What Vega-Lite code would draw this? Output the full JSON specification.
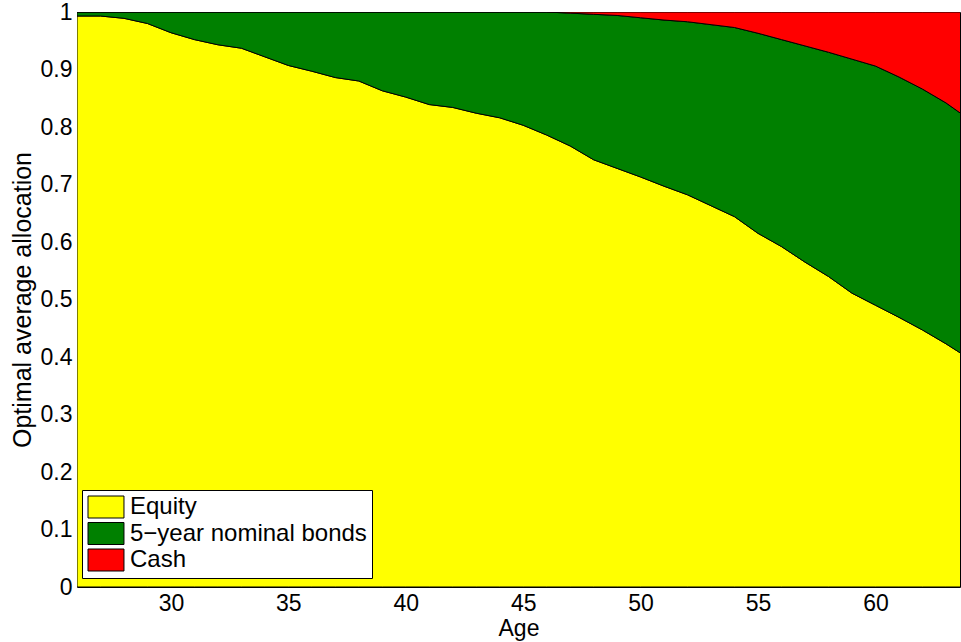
{
  "$schema": "https://vega.github.io/schema/vega-lite/v6.json",
  "width": 883,
  "height": 575,
  "autosize": {"type": "none"},
  "padding": {"left": 77, "top": 12, "right": 1, "bottom": 55},
  "background": "white",
  "config": {
    "font": "Liberation Sans",
    "view": {"stroke": "black", "strokeWidth": 1},
    "axis": {"domain": false, "ticks": false, "grid": false, "labelColor": "black", "titleColor": "black", "labelFont": "Liberation Sans", "titleFont": "Liberation Sans", "titleFontWeight": "normal"}
  },
  "data": {"values": [
    {"age": 26, "asset": "Equity", "share": 0.993}, {"age": 26, "asset": "5−year nominal bonds", "share": 0.007}, {"age": 26, "asset": "Cash", "share": 0.0},
    {"age": 27, "asset": "Equity", "share": 0.993}, {"age": 27, "asset": "5−year nominal bonds", "share": 0.007}, {"age": 27, "asset": "Cash", "share": 0.0},
    {"age": 28, "asset": "Equity", "share": 0.989}, {"age": 28, "asset": "5−year nominal bonds", "share": 0.011}, {"age": 28, "asset": "Cash", "share": 0.0},
    {"age": 29, "asset": "Equity", "share": 0.980}, {"age": 29, "asset": "5−year nominal bonds", "share": 0.020}, {"age": 29, "asset": "Cash", "share": 0.0},
    {"age": 30, "asset": "Equity", "share": 0.964}, {"age": 30, "asset": "5−year nominal bonds", "share": 0.036}, {"age": 30, "asset": "Cash", "share": 0.0},
    {"age": 31, "asset": "Equity", "share": 0.952}, {"age": 31, "asset": "5−year nominal bonds", "share": 0.048}, {"age": 31, "asset": "Cash", "share": 0.0},
    {"age": 32, "asset": "Equity", "share": 0.943}, {"age": 32, "asset": "5−year nominal bonds", "share": 0.057}, {"age": 32, "asset": "Cash", "share": 0.0},
    {"age": 33, "asset": "Equity", "share": 0.937}, {"age": 33, "asset": "5−year nominal bonds", "share": 0.063}, {"age": 33, "asset": "Cash", "share": 0.0},
    {"age": 34, "asset": "Equity", "share": 0.922}, {"age": 34, "asset": "5−year nominal bonds", "share": 0.078}, {"age": 34, "asset": "Cash", "share": 0.0},
    {"age": 35, "asset": "Equity", "share": 0.907}, {"age": 35, "asset": "5−year nominal bonds", "share": 0.093}, {"age": 35, "asset": "Cash", "share": 0.0},
    {"age": 36, "asset": "Equity", "share": 0.897}, {"age": 36, "asset": "5−year nominal bonds", "share": 0.103}, {"age": 36, "asset": "Cash", "share": 0.0},
    {"age": 37, "asset": "Equity", "share": 0.886}, {"age": 37, "asset": "5−year nominal bonds", "share": 0.114}, {"age": 37, "asset": "Cash", "share": 0.0},
    {"age": 38, "asset": "Equity", "share": 0.880}, {"age": 38, "asset": "5−year nominal bonds", "share": 0.120}, {"age": 38, "asset": "Cash", "share": 0.0},
    {"age": 39, "asset": "Equity", "share": 0.863}, {"age": 39, "asset": "5−year nominal bonds", "share": 0.137}, {"age": 39, "asset": "Cash", "share": 0.0},
    {"age": 40, "asset": "Equity", "share": 0.852}, {"age": 40, "asset": "5−year nominal bonds", "share": 0.148}, {"age": 40, "asset": "Cash", "share": 0.0},
    {"age": 41, "asset": "Equity", "share": 0.839}, {"age": 41, "asset": "5−year nominal bonds", "share": 0.161}, {"age": 41, "asset": "Cash", "share": 0.0},
    {"age": 42, "asset": "Equity", "share": 0.834}, {"age": 42, "asset": "5−year nominal bonds", "share": 0.166}, {"age": 42, "asset": "Cash", "share": 0.0},
    {"age": 43, "asset": "Equity", "share": 0.824}, {"age": 43, "asset": "5−year nominal bonds", "share": 0.176}, {"age": 43, "asset": "Cash", "share": 0.0},
    {"age": 44, "asset": "Equity", "share": 0.816}, {"age": 44, "asset": "5−year nominal bonds", "share": 0.184}, {"age": 44, "asset": "Cash", "share": 0.0},
    {"age": 45, "asset": "Equity", "share": 0.803}, {"age": 45, "asset": "5−year nominal bonds", "share": 0.197}, {"age": 45, "asset": "Cash", "share": 0.0},
    {"age": 46, "asset": "Equity", "share": 0.786}, {"age": 46, "asset": "5−year nominal bonds", "share": 0.214}, {"age": 46, "asset": "Cash", "share": 0.0},
    {"age": 47, "asset": "Equity", "share": 0.767}, {"age": 47, "asset": "5−year nominal bonds", "share": 0.231}, {"age": 47, "asset": "Cash", "share": 0.002},
    {"age": 48, "asset": "Equity", "share": 0.743}, {"age": 48, "asset": "5−year nominal bonds", "share": 0.253}, {"age": 48, "asset": "Cash", "share": 0.004},
    {"age": 49, "asset": "Equity", "share": 0.728}, {"age": 49, "asset": "5−year nominal bonds", "share": 0.266}, {"age": 49, "asset": "Cash", "share": 0.006},
    {"age": 50, "asset": "Equity", "share": 0.713}, {"age": 50, "asset": "5−year nominal bonds", "share": 0.277}, {"age": 50, "asset": "Cash", "share": 0.010},
    {"age": 51, "asset": "Equity", "share": 0.697}, {"age": 51, "asset": "5−year nominal bonds", "share": 0.289}, {"age": 51, "asset": "Cash", "share": 0.014},
    {"age": 52, "asset": "Equity", "share": 0.682}, {"age": 52, "asset": "5−year nominal bonds", "share": 0.301}, {"age": 52, "asset": "Cash", "share": 0.017},
    {"age": 53, "asset": "Equity", "share": 0.663}, {"age": 53, "asset": "5−year nominal bonds", "share": 0.315}, {"age": 53, "asset": "Cash", "share": 0.022},
    {"age": 54, "asset": "Equity", "share": 0.644}, {"age": 54, "asset": "5−year nominal bonds", "share": 0.329}, {"age": 54, "asset": "Cash", "share": 0.027},
    {"age": 55, "asset": "Equity", "share": 0.615}, {"age": 55, "asset": "5−year nominal bonds", "share": 0.348}, {"age": 55, "asset": "Cash", "share": 0.037},
    {"age": 56, "asset": "Equity", "share": 0.592}, {"age": 56, "asset": "5−year nominal bonds", "share": 0.360}, {"age": 56, "asset": "Cash", "share": 0.048},
    {"age": 57, "asset": "Equity", "share": 0.565}, {"age": 57, "asset": "5−year nominal bonds", "share": 0.376}, {"age": 57, "asset": "Cash", "share": 0.059},
    {"age": 58, "asset": "Equity", "share": 0.540}, {"age": 58, "asset": "5−year nominal bonds", "share": 0.390}, {"age": 58, "asset": "Cash", "share": 0.070},
    {"age": 59, "asset": "Equity", "share": 0.511}, {"age": 59, "asset": "5−year nominal bonds", "share": 0.407}, {"age": 59, "asset": "Cash", "share": 0.082},
    {"age": 60, "asset": "Equity", "share": 0.490}, {"age": 60, "asset": "5−year nominal bonds", "share": 0.416}, {"age": 60, "asset": "Cash", "share": 0.094},
    {"age": 61, "asset": "Equity", "share": 0.469}, {"age": 61, "asset": "5−year nominal bonds", "share": 0.418}, {"age": 61, "asset": "Cash", "share": 0.113},
    {"age": 62, "asset": "Equity", "share": 0.447}, {"age": 62, "asset": "5−year nominal bonds", "share": 0.419}, {"age": 62, "asset": "Cash", "share": 0.134},
    {"age": 63, "asset": "Equity", "share": 0.423}, {"age": 63, "asset": "5−year nominal bonds", "share": 0.419}, {"age": 63, "asset": "Cash", "share": 0.158},
    {"age": 64, "asset": "Equity", "share": 0.397}, {"age": 64, "asset": "5−year nominal bonds", "share": 0.416}, {"age": 64, "asset": "Cash", "share": 0.187}
  ]},
  "transform": [
    {"calculate": "indexof(['Equity','5−year nominal bonds','Cash'], datum.asset)", "as": "k"}
  ],
  "mark": {"type": "area", "stroke": "black", "strokeWidth": 1, "clip": true, "opacity": 1, "fillOpacity": 1},
  "encoding": {
    "x": {
      "field": "age", "type": "quantitative",
      "scale": {"domain": [26, 63.6], "nice": false, "zero": false},
      "axis": {"values": [30, 35, 40, 45, 50, 55, 60], "title": "Age", "labelFontSize": 23, "titleFontSize": 23, "labelPadding": 5, "titlePadding": 2}
    },
    "y": {
      "field": "share", "type": "quantitative", "stack": "zero",
      "scale": {"domain": [0, 1], "nice": false},
      "axis": {"values": [0, 0.1, 0.2, 0.3, 0.4, 0.5, 0.6, 0.7, 0.8, 0.9, 1], "format": ".1~f", "title": "Optimal average allocation", "labelFontSize": 23, "titleFontSize": 25, "labelPadding": 5, "titlePadding": 5}
    },
    "color": {
      "field": "asset", "type": "nominal",
      "scale": {"domain": ["Equity", "5−year nominal bonds", "Cash"], "range": ["#ffff00", "#008000", "#ff0000"]},
      "legend": {
        "title": null, "orient": "none", "legendX": 5, "legendY": 478,
        "direction": "vertical",
        "strokeColor": "black", "fillColor": "white", "padding": 5,
        "symbolType": "M-1,-1H2.27V1H-1Z", "symbolSize": 484,
        "symbolStrokeColor": "black", "symbolStrokeWidth": 1, "symbolOpacity": 1,
        "labelFontSize": 24, "labelFont": "Liberation Sans", "labelColor": "black",
        "labelOffset": 19, "rowPadding": 0.5, "labelLimit": 500
      }
    },
    "order": {"field": "k", "type": "quantitative"}
  }
}
